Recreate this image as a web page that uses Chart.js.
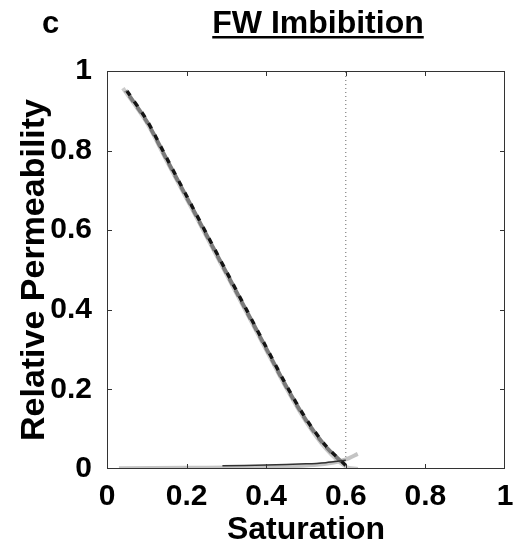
<!DOCTYPE html>
<html>
<head>
<meta charset="utf-8">
<script src="https://cdn.jsdelivr.net/npm/chart.js@4.4.1/dist/chart.umd.min.js"></script>
<style>
  html, body { margin: 0; padding: 0; background: #ffffff; }
  #wrap { width: 513px; height: 547px; }
</style>
</head>
<body>
<div id="wrap"><canvas id="c" width="513" height="547"></canvas></div>
<script>
// Oil relative permeability (decreasing) and water relative permeability (increasing), forward imbibition
const satOilLight = [0.040, 0.10, 0.15, 0.20, 0.25, 0.30, 0.35, 0.40, 0.45, 0.50, 0.55, 0.60, 0.63];
const kroLight    = [0.957, 0.870, 0.774, 0.679, 0.584, 0.489, 0.394, 0.299, 0.204, 0.119, 0.051, 0.006, 0.000];

const satOilGray  = [0.047, 0.10, 0.15, 0.20, 0.25, 0.30, 0.35, 0.40, 0.45, 0.50, 0.55, 0.60];
const kroGray     = [0.951, 0.873, 0.778, 0.683, 0.588, 0.493, 0.398, 0.303, 0.208, 0.123, 0.056, 0.008];

const satOilDark  = [0.05, 0.10, 0.15, 0.20, 0.25, 0.30, 0.35, 0.40, 0.45, 0.50, 0.55, 0.60];
const kroDark     = [0.950, 0.876, 0.781, 0.686, 0.591, 0.496, 0.401, 0.306, 0.211, 0.126, 0.058, 0.009];

const satWaterLight = [0.03, 0.20, 0.30, 0.45, 0.52, 0.57, 0.60, 0.63];
const krwLight      = [0.002, 0.003, 0.004, 0.007, 0.010, 0.016, 0.024, 0.038];

const satWaterDark  = [0.29, 0.40, 0.50, 0.55, 0.60];
const krwDark       = [0.008, 0.010, 0.013, 0.016, 0.022];

// End-point saturation marker
const endSat = [0.6, 0.6];
const endKr  = [0, 1];

const tickValues = [0, 0.2, 0.4, 0.6, 0.8, 1];

const xAxisTitle = 'Saturation';
const yAxisTitle = 'Relative Permeability';
const chartTitle = 'FW Imbibition';
const panelLetter = 'c';

const FONT = '"Liberation Sans", Arial, Helvetica, sans-serif';

function pts(xs, ys) { return xs.map((x, i) => ({ x: x, y: ys[i] })); }

// Box, inward ticks, panel letter and underlined title
const framePlugin = {
  id: 'frame',
  afterDraw(chart) {
    const { ctx, chartArea: a, scales } = chart;
    ctx.save();
    ctx.strokeStyle = '#333333';
    ctx.lineWidth = 1;
    ctx.strokeRect(a.left + 0.5, a.top + 0.5, a.right - a.left - 1, a.bottom - a.top - 1);
    const len = 5;
    ctx.beginPath();
    tickValues.forEach(v => {
      if (v <= 0 || v >= 1) return;
      const px = Math.round(scales.x.getPixelForValue(v)) + 0.5;
      ctx.moveTo(px, a.bottom); ctx.lineTo(px, a.bottom - len);
      ctx.moveTo(px, a.top); ctx.lineTo(px, a.top + len);
      const py = Math.round(scales.y.getPixelForValue(v)) + 0.5;
      ctx.moveTo(a.left, py); ctx.lineTo(a.left + len, py);
      ctx.moveTo(a.right, py); ctx.lineTo(a.right - len, py);
    });
    ctx.stroke();

    ctx.fillStyle = '#000000';
    ctx.textBaseline = 'alphabetic';
    ctx.font = 'bold 31px ' + FONT;
    ctx.textAlign = 'left';
    ctx.fillText(panelLetter, 42, 33);

    ctx.textAlign = 'center';
    const cx = 318;
    ctx.font = 'bold 32px ' + FONT;
    ctx.fillText(chartTitle, cx, 33);
    const w = ctx.measureText(chartTitle).width;
    ctx.fillRect(cx - w / 2, 36, w, 2.5);
    ctx.restore();
  }
};

// Lower "order" values are painted on top
new Chart(document.getElementById('c'), {
  type: 'scatter',
  data: {
    datasets: [
      { order: 6, data: pts(endSat, endKr), borderColor: '#666666', borderWidth: 1, borderDash: [1, 3], showLine: true, pointRadius: 0 },
      { order: 5, data: pts(satOilLight, kroLight), borderColor: '#cccccc', borderWidth: 4, showLine: true, pointRadius: 0, tension: 0.3 },
      { order: 4, data: pts(satWaterLight, krwLight), borderColor: '#c4c4c4', borderWidth: 4, showLine: true, pointRadius: 0, tension: 0.3 },
      { order: 3, data: pts(satOilGray, kroGray), borderColor: '#7a7a7a', borderWidth: 4, borderDash: [7, 6], borderDashOffset: 6, showLine: true, pointRadius: 0, tension: 0.3 },
      { order: 2, data: pts(satOilDark, kroDark), borderColor: '#151515', borderWidth: 3.5, borderDash: [6, 7], showLine: true, pointRadius: 0, tension: 0.3 },
      { order: 1, data: pts(satWaterDark, krwDark), borderColor: '#333333', borderWidth: 1.5, showLine: true, pointRadius: 0, tension: 0.3 }
    ]
  },
  options: {
    responsive: false,
    animation: false,
    devicePixelRatio: 1,
    layout: { padding: { top: 71, right: 8, left: 0, bottom: 0 } },
    plugins: { legend: { display: false }, tooltip: { enabled: false } },
    scales: {
      x: {
        type: 'linear', min: 0, max: 1,
        afterFit(s) { s.height = 78; s.paddingRight = 0; s.paddingLeft = 0; },
        afterBuildTicks(s) { s.ticks = tickValues.map(v => ({ value: v })); },
        grid: { display: false },
        border: { display: false },
        ticks: { color: '#000', padding: 2, maxRotation: 0, font: { family: FONT, size: 30, weight: 'bold' }, callback: v => String(v) },
        title: { display: true, text: xAxisTitle, color: '#000', padding: { top: 0, bottom: 1 }, font: { family: FONT, size: 32, weight: 'bold', lineHeight: 1 } }
      },
      y: {
        type: 'linear', min: 0, max: 1,
        afterFit(s) { s.width = 107; },
        afterBuildTicks(s) { s.ticks = tickValues.map(v => ({ value: v })); },
        grid: { display: false },
        border: { display: false },
        ticks: { color: '#000', padding: 7, font: { family: FONT, size: 30, weight: 'bold' }, callback: v => String(v) },
        title: { display: true, text: yAxisTitle, color: '#000', padding: { top: 14, bottom: 0 }, font: { family: FONT, size: 34, weight: 'bold', lineHeight: 1.2 } }
      }
    }
  },
  plugins: [framePlugin]
});
</script>
</body>
</html>
